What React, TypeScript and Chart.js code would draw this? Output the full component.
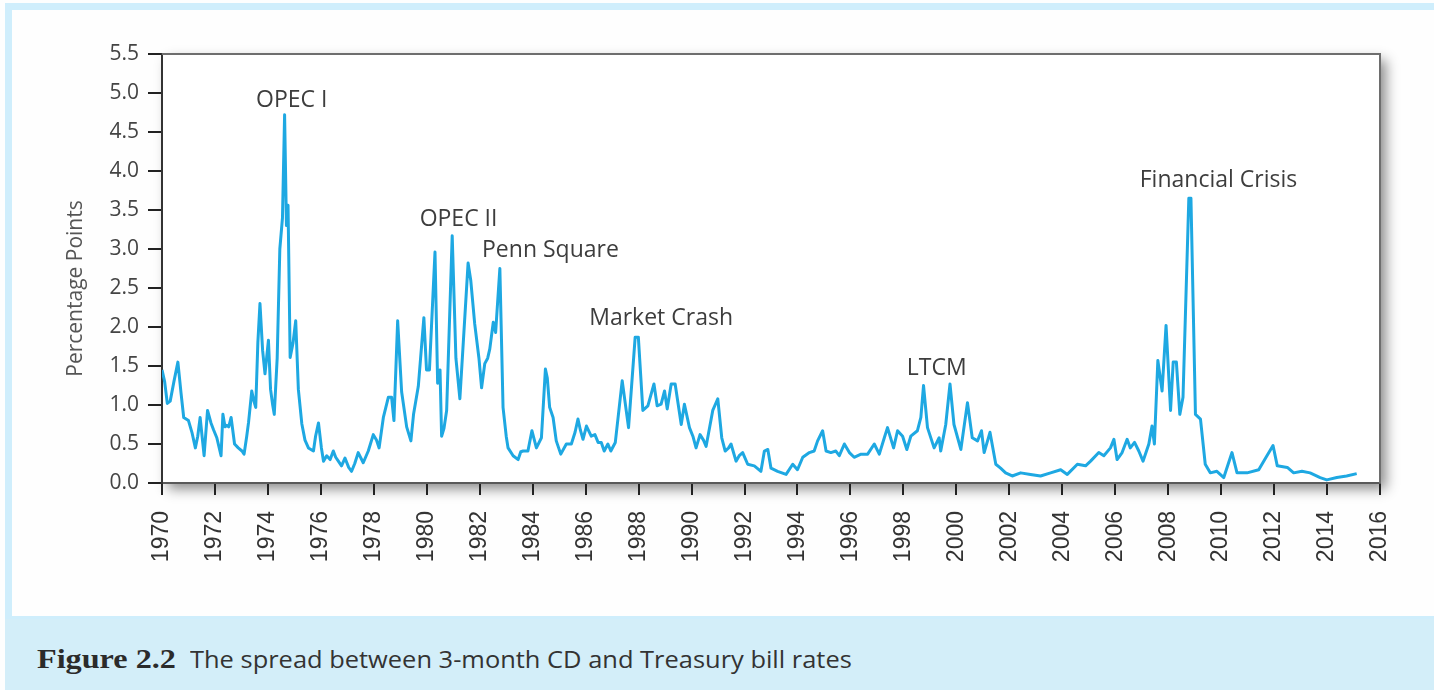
import React, { useEffect, useRef } from "react";
import { Chart, registerables } from "chart.js";

Chart.register(...registerables);

// Decimal years of the observations
const spreadDates: number[] = [
  1970.0, 1970.1, 1970.2, 1970.31, 1970.45, 1970.6, 1970.72, 1970.82,
  1971.0, 1971.13, 1971.26, 1971.35, 1971.44, 1971.59, 1971.72, 1971.85, 1971.95,
  1972.07, 1972.23, 1972.3, 1972.38, 1972.45, 1972.52, 1972.61, 1972.74, 1972.88,
  1973.02, 1973.1, 1973.2, 1973.27, 1973.39, 1973.47, 1973.54, 1973.62, 1973.7, 1973.8, 1973.89,
  1974.02, 1974.1, 1974.18, 1974.24, 1974.35, 1974.45, 1974.55, 1974.63, 1974.7, 1974.76, 1974.84, 1974.95,
  1975.05, 1975.15, 1975.28, 1975.4, 1975.53, 1975.72, 1975.8, 1975.91,
  1976.02, 1976.1, 1976.22, 1976.35, 1976.47, 1976.56, 1976.66, 1976.78, 1976.91,
  1977.05, 1977.16, 1977.28, 1977.41, 1977.6, 1977.79, 1977.98,
  1978.1, 1978.2, 1978.36, 1978.55, 1978.67, 1978.76, 1978.9,
  1979.05, 1979.24, 1979.4, 1979.5, 1979.68, 1979.89, 1979.99,
  1980.1, 1980.31, 1980.41, 1980.5, 1980.56, 1980.65, 1980.75, 1980.96,
  1981.1, 1981.25, 1981.56, 1981.66, 1981.81, 1981.97,
  1982.07, 1982.19, 1982.3, 1982.38, 1982.51, 1982.6, 1982.76, 1982.88,
  1983.0, 1983.07, 1983.26, 1983.45, 1983.55, 1983.64, 1983.82, 1983.97,
  1984.14, 1984.33, 1984.48, 1984.55, 1984.64, 1984.77, 1984.89,
  1985.06, 1985.27, 1985.46, 1985.6, 1985.71, 1985.8, 1985.9,
  1986.03, 1986.21, 1986.35, 1986.47, 1986.59, 1986.7, 1986.84, 1986.95,
  1987.12, 1987.38, 1987.62, 1987.87, 1987.99,
  1988.16, 1988.35, 1988.58, 1988.7, 1988.85, 1988.98,
  1989.08, 1989.23, 1989.38, 1989.61, 1989.73, 1989.92,
  1990.05, 1990.17, 1990.32, 1990.45, 1990.55, 1990.8, 1990.99,
  1991.14, 1991.27, 1991.4, 1991.49, 1991.68, 1991.8, 1991.93,
  1992.12, 1992.37, 1992.62, 1992.75, 1992.88,
  1993.0, 1993.25, 1993.57, 1993.82,
  1994.0, 1994.2, 1994.45, 1994.63, 1994.76, 1994.95,
  1995.08, 1995.26, 1995.45, 1995.58, 1995.77, 1995.96,
  1996.14, 1996.4, 1996.65, 1996.9,
  1997.09, 1997.28, 1997.4, 1997.63, 1997.78, 1997.97,
  1998.13, 1998.28, 1998.53, 1998.66, 1998.76, 1998.91,
  1999.16, 1999.35, 1999.41, 1999.6, 1999.76, 1999.91,
  2000.17, 2000.42, 2000.6, 2000.8, 2000.95,
  2001.05, 2001.27, 2001.49, 2001.67, 2001.86,
  2002.11, 2002.43, 2002.8,
  2003.18, 2003.56, 2003.94,
  2004.19, 2004.57, 2004.88,
  2005.07, 2005.38, 2005.57, 2005.82, 2005.95,
  2006.07, 2006.26, 2006.45, 2006.57, 2006.73, 2006.89,
  2007.05, 2007.27, 2007.39, 2007.48, 2007.61, 2007.77, 2007.92,
  2008.09, 2008.19, 2008.31, 2008.44, 2008.56, 2008.78, 2008.86,
  2009.03, 2009.22, 2009.4, 2009.59, 2009.84,
  2010.1, 2010.41, 2010.6, 2010.98,
  2011.42, 2011.68, 2011.96,
  2012.12, 2012.5, 2012.74,
  2013.05, 2013.36, 2013.74, 2013.99,
  2014.37, 2014.74,
  2015.12,
];

// Spread between 3-month CD and T-bill rates (percentage points)
const spreadValues: number[] = [
  1.45, 1.3, 1.02, 1.05, 1.3, 1.55, 1.15, 0.84,
  0.8, 0.65, 0.45, 0.6, 0.84, 0.35, 0.93, 0.77, 0.68,
  0.58, 0.35, 0.88, 0.72, 0.74, 0.72, 0.84, 0.5, 0.45,
  0.41, 0.37, 0.6, 0.78, 1.18, 1.05, 0.97, 1.8, 2.3, 1.7, 1.4,
  1.83, 1.2, 1.0, 0.88, 1.6, 3.0, 3.4, 4.72, 3.3, 3.56, 1.61, 1.8,
  2.08, 1.2, 0.76, 0.55, 0.45, 0.41, 0.6, 0.77,
  0.45, 0.28, 0.35, 0.3, 0.41, 0.33, 0.28, 0.22, 0.32,
  0.2, 0.15, 0.25, 0.39, 0.26, 0.41, 0.62,
  0.55, 0.45, 0.84, 1.1, 1.1, 0.8, 2.08,
  1.17, 0.72, 0.54, 0.88, 1.24, 2.12, 1.45,
  1.45, 2.96, 1.28, 1.45, 0.6, 0.7, 0.93, 3.17,
  1.6, 1.08, 2.82, 2.6, 2.04, 1.6,
  1.22, 1.53, 1.6, 1.72, 2.06, 1.93, 2.75, 0.97,
  0.6, 0.45, 0.35, 0.3, 0.4, 0.41, 0.41, 0.67,
  0.45, 0.58, 1.46, 1.35, 0.97, 0.84, 0.54,
  0.37, 0.5, 0.5, 0.65, 0.82, 0.68, 0.56,
  0.73, 0.6, 0.62, 0.52, 0.52, 0.41, 0.5, 0.41,
  0.52, 1.31, 0.71, 1.87, 1.87,
  0.93, 0.99, 1.27, 0.99, 1.01, 1.18,
  0.95, 1.27, 1.27, 0.75, 1.01, 0.71,
  0.6, 0.45, 0.62, 0.55, 0.47, 0.93, 1.08,
  0.58, 0.41, 0.45, 0.5, 0.28, 0.35, 0.39,
  0.24, 0.22, 0.15, 0.41, 0.43,
  0.19, 0.15, 0.11, 0.24,
  0.17, 0.33, 0.39, 0.41, 0.54, 0.67,
  0.41, 0.39, 0.41, 0.35, 0.5, 0.39,
  0.33, 0.37, 0.37, 0.5,
  0.37, 0.58, 0.71, 0.45, 0.67, 0.6,
  0.43, 0.6, 0.67, 0.84, 1.25, 0.71,
  0.45, 0.58, 0.41, 0.75, 1.27, 0.75,
  0.43, 1.03, 0.58, 0.54, 0.67,
  0.39, 0.65, 0.24, 0.19, 0.13,
  0.09, 0.13, 0.11,
  0.09, 0.13, 0.17,
  0.11, 0.24, 0.22,
  0.28, 0.39, 0.35, 0.45, 0.56,
  0.3, 0.39, 0.56, 0.45, 0.52, 0.41,
  0.28, 0.5, 0.73, 0.5, 1.57, 1.18, 2.02,
  0.93, 1.55, 1.55, 0.88, 1.1, 3.65, 3.65,
  0.88, 0.82, 0.24, 0.13, 0.15,
  0.07, 0.39, 0.13, 0.13,
  0.17, 0.32, 0.48,
  0.22, 0.2, 0.13,
  0.15, 0.13, 0.07, 0.04,
  0.07, 0.09,
  0.12,
];

// Axis ranges / ticks
const xRange = [1970, 2016];
const xStep = 2;
const yRange = [0, 5.5];
const yStep = 0.5;

// Event annotations (text anchors in data units)
const eventLabels = ["OPEC I", "OPEC II", "Penn Square", "Market Crash", "LTCM", "Financial Crisis"];
const eventYears = [1974.9, 1981.2, 1984.67, 1988.85, 1999.26, 2009.9];
const eventLevels = [4.9, 3.38, 2.98, 2.11, 1.47, 3.88];

const yAxisTitle = "Percentage Points";
const captionLabel = "Figure 2.2";
const captionText = "The spread between 3-month CD and Treasury bill rates";

const W = 1434;
const CANVAS_H = 615;
const PLOT_LEFT = 162;
const PLOT_TOP = 54;
const PLOT_RIGHT = 1380;
const PLOT_BOTTOM = 483;

const framePlugin = {
  id: "frameShadow",
  beforeDraw(chart: any) {
    const { ctx, chartArea } = chart;
    const { left, top, right, bottom } = chartArea;
    ctx.save();
    ctx.shadowColor = "rgba(0,0,0,0.45)";
    ctx.shadowBlur = 12;
    ctx.shadowOffsetX = 6;
    ctx.shadowOffsetY = 6;
    ctx.fillStyle = "#ffffff";
    ctx.fillRect(left, top, right - left, bottom - top);
    ctx.restore();
  },
  beforeDatasetsDraw(chart: any) {
    const { ctx, chartArea } = chart;
    const { left, top, right, bottom } = chartArea;
    ctx.save();
    ctx.strokeStyle = "#6e6e6e";
    ctx.lineWidth = 2;
    ctx.beginPath();
    ctx.moveTo(left, top);
    ctx.lineTo(right, top);
    ctx.lineTo(right, bottom);
    ctx.stroke();
    ctx.restore();
  },
};

const textPlugin = {
  id: "eventText",
  afterDatasetsDraw(chart: any) {
    const { ctx, chartArea, scales } = chart;
    ctx.save();
    ctx.fillStyle = "#3d3d3d";
    ctx.font = '23px "Open Sans"';
    ctx.textAlign = "center";
    ctx.textBaseline = "middle";
    eventLabels.forEach((label, i) => {
      const x = scales.x.getPixelForValue(eventYears[i]);
      const y = scales.y.getPixelForValue(eventLevels[i]);
      ctx.fillText(label, x, y);
    });
    // y axis title
    ctx.fillStyle = "#555555";
    ctx.font = '21px "Open Sans"';
    ctx.translate(chartArea.left - 86, (chartArea.top + chartArea.bottom) / 2 + 20);
    ctx.rotate(-Math.PI / 2);
    ctx.fillText(yAxisTitle, 0, 0);
    ctx.restore();
  },
};

export default function App() {
  const canvasRef = useRef<HTMLCanvasElement | null>(null);

  useEffect(() => {
    const canvas = canvasRef.current;
    if (!canvas) return;
    const points = spreadDates.map((x, i) => ({ x, y: spreadValues[i] }));
    const chart = new Chart(canvas, {
      type: "line",
      data: {
        datasets: [
          {
            data: points,
            borderColor: "#1ea8e2",
            borderWidth: 3,
            pointRadius: 0,
            tension: 0,
            fill: false,
            borderJoinStyle: "round",
          },
        ],
      },
      options: {
        responsive: false,
        animation: false,
        events: [],
        layout: { padding: { left: 0, top: PLOT_TOP, right: W - PLOT_RIGHT, bottom: 0 } },
        plugins: { legend: { display: false }, tooltip: { enabled: false } },
        scales: {
          x: {
            type: "linear",
            min: xRange[0],
            max: xRange[1],
            afterFit: (s: any) => {
              s.height = CANVAS_H - PLOT_BOTTOM;
            },
            ticks: {
              stepSize: xStep,
              autoSkip: false,
              minRotation: 90,
              maxRotation: 90,
              padding: 16,
              color: "#333333",
              font: { family: '"Liberation Sans", Arial, sans-serif', size: 23 },
              callback: (v: any) => String(v),
            },
            grid: { drawOnChartArea: false, drawTicks: true, tickLength: 12, color: "#222222", lineWidth: 2 },
            border: { display: true, color: "#5a5a5a", width: 2 },
          },
          y: {
            type: "linear",
            min: yRange[0],
            max: yRange[1],
            afterFit: (s: any) => {
              s.width = PLOT_LEFT;
            },
            ticks: {
              stepSize: yStep,
              padding: 9,
              color: "#444444",
              font: { family: '"Open Sans", sans-serif', size: 21 },
              callback: (v: any) => Number(v).toFixed(1),
            },
            grid: { drawOnChartArea: false, drawTicks: true, tickLength: 14, color: "#222222", lineWidth: 2 },
            border: { display: true, color: "#333333", width: 2 },
          },
        },
      },
      plugins: [framePlugin, textPlugin],
    } as any);
    return () => chart.destroy();
  }, []);

  return (
    <div
      style={{
        position: "absolute",
        left: 0,
        top: 0,
        width: W,
        height: 690,
        background: "#fdfefe",
        overflow: "hidden",
      }}
    >
      <div style={{ position: "absolute", left: 5, top: 3, width: W - 5, height: 687, background: "#cfeefc" }} />
      <div style={{ position: "absolute", left: 12, top: 10, width: W - 12, height: 606, background: "#fefefe" }} />
      <div style={{ position: "absolute", left: 5, top: 619, width: W - 5, height: 71, background: "#d3eef9" }} />
      <canvas
        ref={canvasRef}
        width={W}
        height={CANVAS_H}
        style={{ position: "absolute", left: 0, top: 0, display: "block" }}
      />
      <div
        style={{
          position: "absolute",
          left: 37,
          top: 642,
          whiteSpace: "nowrap",
          color: "#2b2b2b",
          display: "flex",
          alignItems: "baseline",
        }}
      >
        <span
          style={{
            fontFamily: '"Liberation Serif", "Times New Roman", serif',
            fontWeight: 700,
            fontSize: 28,
            display: "inline-block",
            transform: "scaleX(1.15)",
            transformOrigin: "left center",
            width: 139,
          }}
        >
          {captionLabel}
        </span>
        <span
          style={{
            fontFamily: '"Open Sans", sans-serif',
            fontSize: 24,
            color: "#333333",
            marginLeft: 14,
            display: "inline-block",
            transform: "scaleX(1.06)",
            transformOrigin: "left center",
          }}
        >
          {captionText}
        </span>
      </div>
    </div>
  );
}
